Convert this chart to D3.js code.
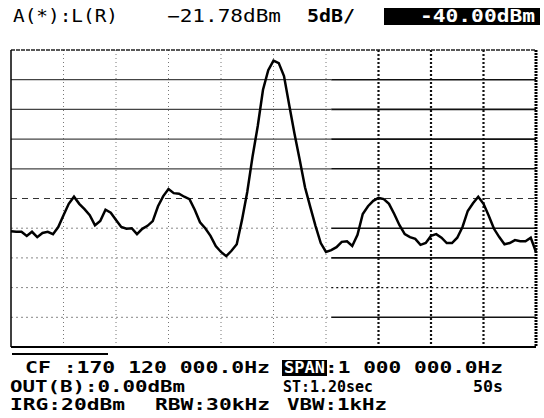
<!DOCTYPE html>
<html>
<head>
<meta charset="utf-8">
<script src="https://cdn.jsdelivr.net/npm/d3@7"></script>
<style>
  body { margin: 0; background: #fff; }
  svg text { font-family: "DejaVu Sans Mono", "Liberation Mono", monospace; }
</style>
</head>
<body>
<div id="chart"></div>
<script>
// sweep: offset from CF in kHz, level in dBm (span 1 MHz, 5 dB/div)
var offsetKHz = [-500, -490, -480, -470, -460, -450, -440, -430, -420, -410,
  -400, -390, -380, -370, -360, -350, -340, -330, -320, -310,
  -300, -290, -280, -270, -260, -250, -240, -230, -220, -210,
  -200, -190, -180, -170, -160, -150, -140, -130, -120, -110,
  -100, -90, -80, -70, -60, -50, -40, -30, -20, -10,
  0, 10, 20, 30, 40, 50, 60, 70, 80, 90,
  100, 110, 120, 130, 140, 150, 160, 170, 180, 190,
  200, 210, 220, 230, 240, 250, 260, 270, 280, 290,
  300, 310, 320, 330, 340, 350, 360, 370, 380, 390,
  400, 410, 420, 430, 440, 450, 460, 470, 480, 490, 500];

var levelDBm = [-50.5, -50.6, -50.6, -51.3, -50.6, -51.5, -50.8, -50.6, -51.0, -49.8,
  -47.8, -45.9, -44.7, -45.9, -46.8, -47.8, -49.5, -48.8, -46.9, -47.4,
  -48.6, -49.8, -50.1, -50.0, -51.0, -50.1, -49.6, -48.8, -46.3, -44.6,
  -43.4, -44.1, -44.2, -44.7, -45.1, -46.9, -49.0, -50.0, -51.3, -53.0,
  -54.0, -54.7, -53.8, -52.7, -48.6, -43.9, -38.0, -32.8, -26.7, -23.4,
  -21.78, -22.2, -24.4, -29.3, -34.1, -38.5, -43.1, -46.4, -49.6, -52.5,
  -54.0, -53.7, -53.2, -52.3, -52.2, -53.0, -51.1, -47.6, -46.3, -45.4,
  -44.9, -45.1, -45.9, -47.6, -49.5, -51.0, -51.5, -51.8, -52.8, -52.5,
  -51.3, -51.0, -51.6, -52.5, -52.5, -51.6, -49.8, -47.1, -45.8, -44.7,
  -45.9, -47.9, -50.1, -51.5, -52.7, -52.5, -52.0, -52.2, -52.2, -51.6, -54.0];

var gridKHz = [-400, -300, -200, -100, 0, 100, 200, 300, 400];
var gridDBm = [-25, -30, -35, -40, -45, -50, -55, -60, -65];
var refLevel = -20, bottomLevel = -70;

var headerTexts = ['A(*):L(R)', '5dB/', '-40.00dBm'];
var footerRows = [
  ['CF :170 120 000.0Hz', 'SPAN', ':1 000 000.0Hz'],
  ['OUT(B):0.00dBm', 'ST:1.20sec', '50s'],
  ['IRG:20dBm', 'RBW:30kHz', 'VBW:1kHz']
];

var width = 544, height = 418;

var svg = d3.select('#chart').append('svg')
  .attr('width', width)
  .attr('height', height);

var x = d3.scaleLinear().domain([-500, 500]).range([11, 536]),
    y = d3.scaleLinear().domain([bottomLevel, refLevel]).range([347, 50]);

var split = x(110); // right part of screen has heavier graticule

// vertical graticule
var grid = svg.append('g');
gridKHz.forEach(function(f) {
  var heavy = f >= 200;
  grid.append('line')
    .attr('x1', x(f)).attr('x2', x(f))
    .attr('y1', y(refLevel)).attr('y2', y(bottomLevel))
    .attr('stroke', heavy ? '#111' : '#777')
    .attr('stroke-width', heavy ? 2.2 : 1)
    .attr('stroke-dasharray', heavy ? '2,2' : '1,3');
});

// horizontal graticule
gridDBm.forEach(function(l) {
  var yy = y(l);
  if (l === -45) {
    grid.append('line')
      .attr('x1', x(-500)).attr('x2', x(500)).attr('y1', yy).attr('y2', yy)
      .attr('stroke', '#333').attr('stroke-width', 1.2)
      .attr('stroke-dasharray', '6,5');
    return;
  }
  var upper = l > -45;
  // left part
  grid.append('line')
    .attr('x1', x(-500)).attr('x2', split).attr('y1', yy).attr('y2', yy)
    .attr('stroke', upper ? '#444' : '#888')
    .attr('stroke-width', upper ? 1.3 : 1)
    .attr('stroke-dasharray', upper ? null : '2,3');
  // right part
  var dotted = l === -60;
  grid.append('line')
    .attr('x1', split).attr('x2', x(500)).attr('y1', yy).attr('y2', yy)
    .attr('stroke', '#111')
    .attr('stroke-width', dotted ? 1.3 : 1.6)
    .attr('stroke-dasharray', dotted ? '2,3' : null);
});

// frame
grid.append('line')
  .attr('x1', x(-500)).attr('x2', x(500)).attr('y1', y(refLevel)).attr('y2', y(refLevel))
  .attr('stroke', '#222').attr('stroke-width', 1.4).attr('stroke-dasharray', '4,1');
grid.append('line')
  .attr('x1', x(-500)).attr('x2', x(500)).attr('y1', y(bottomLevel)).attr('y2', y(bottomLevel))
  .attr('stroke', '#000').attr('stroke-width', 2);
grid.append('line')
  .attr('x1', x(-500)).attr('x2', x(-500)).attr('y1', y(refLevel)).attr('y2', y(bottomLevel))
  .attr('stroke', '#000').attr('stroke-width', 1.5);
grid.append('line')
  .attr('x1', x(500)).attr('x2', x(500)).attr('y1', y(refLevel)).attr('y2', y(bottomLevel))
  .attr('stroke', '#000').attr('stroke-width', 3).attr('stroke-dasharray', '2,1');
grid.append('line')
  .attr('x1', 12).attr('x2', 108).attr('y1', 354).attr('y2', 354)
  .attr('stroke', '#000').attr('stroke-width', 2);

// trace
var line = d3.line()
  .x(function(d, i) { return x(offsetKHz[i]); })
  .y(function(d) { return y(d); });

svg.append('path')
  .datum(levelDBm)
  .attr('d', line)
  .attr('fill', 'none')
  .attr('stroke', '#000')
  .attr('stroke-width', 2.5)
  .attr('stroke-linejoin', 'miter');

// header
var peak = d3.max(levelDBm);
var head = svg.append('g').attr('font-size', 17);
head.append('text').attr('x', 13).attr('y', 22)
  .attr('textLength', 105).attr('lengthAdjust', 'spacingAndGlyphs')
  .text(headerTexts[0]);
head.append('text').attr('x', 167).attr('y', 22)
  .attr('textLength', 114).attr('lengthAdjust', 'spacingAndGlyphs')
  .text(d3.format('.2f')(peak) + 'dBm');
head.append('text').attr('x', 307).attr('y', 22)
  .attr('textLength', 48).attr('lengthAdjust', 'spacingAndGlyphs')
  .attr('font-weight', 'bold')
  .text(headerTexts[1]);
head.append('rect').attr('x', 384).attr('y', 8).attr('width', 156).attr('height', 17)
  .attr('fill', '#000');
head.append('text').attr('x', 420).attr('y', 22)
  .attr('textLength', 115).attr('lengthAdjust', 'spacingAndGlyphs')
  .attr('fill', '#fff').attr('font-weight', 'bold')
  .text(headerTexts[2]);

// footer
var foot = svg.append('g').attr('font-size', 15.5).attr('font-weight', 'bold');
var rowY = [373, 392, 410];
var cells = [
  [[25, 245], [284, 41], [325, 178]],
  [[10, 175], [283, 90], [473, 30]],
  [[10, 115], [155, 115], [287, 100]]
];
foot.append('rect').attr('x', 282).attr('y', 360).attr('width', 45).attr('height', 16)
  .attr('fill', '#000');
footerRows.forEach(function(row, r) {
  row.forEach(function(t, c) {
    foot.append('text')
      .attr('x', cells[r][c][0]).attr('y', rowY[r])
      .attr('textLength', cells[r][c][1]).attr('lengthAdjust', 'spacingAndGlyphs')
      .attr('fill', (r === 0 && c === 1) ? '#fff' : '#000')
      .text(t);
  });
});
</script>
</body>
</html>
